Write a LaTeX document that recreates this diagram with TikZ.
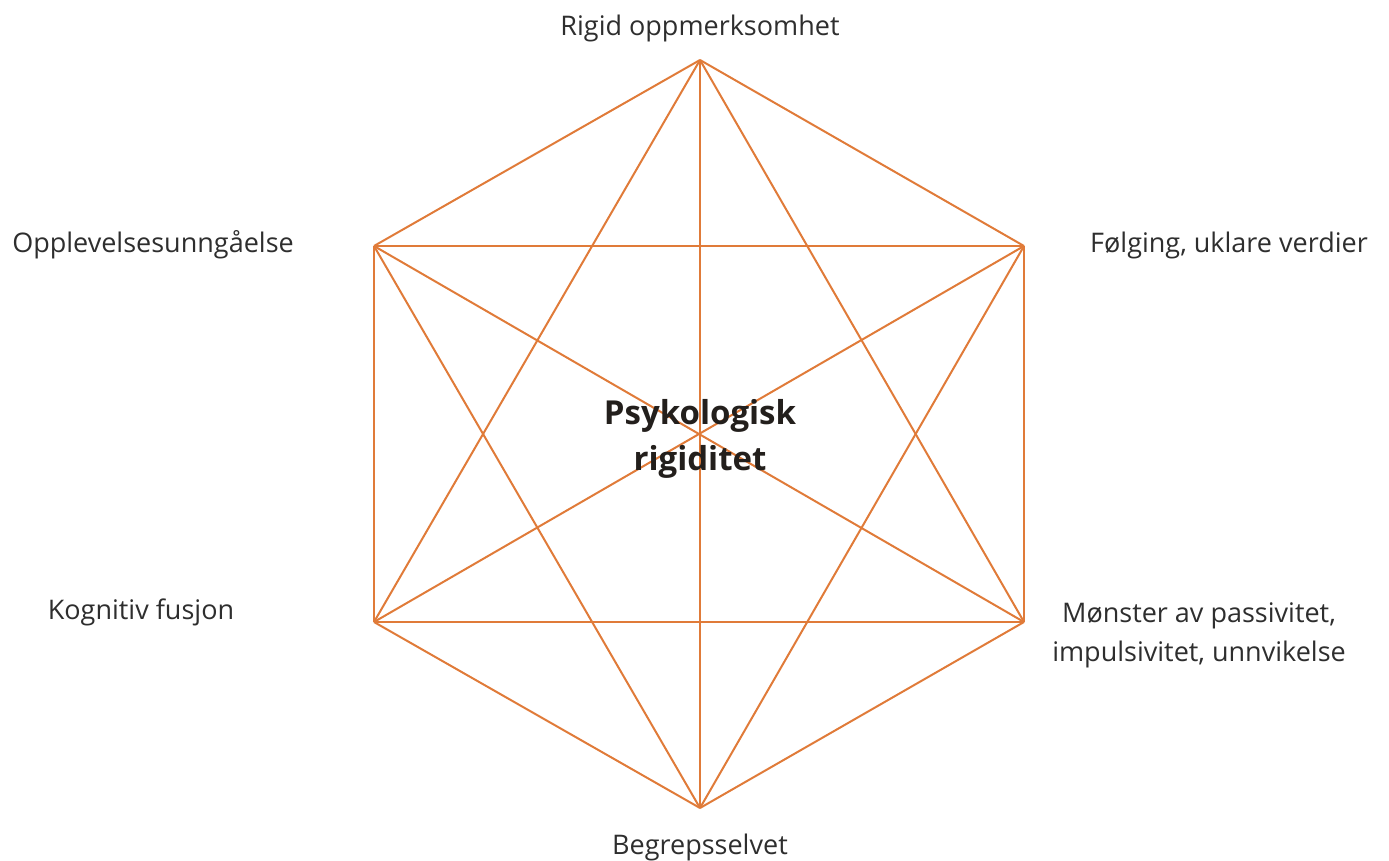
\documentclass[tikz,border=0pt]{standalone}
\usepackage{fontspec}
\setmainfont{Open Sans}
\definecolor{hexline}{HTML}{E07B39}
\definecolor{labeltext}{HTML}{2E2E2E}
\definecolor{centertext}{HTML}{231F1C}
\begin{document}
\begin{tikzpicture}[x=1pt,y=-1pt,
  edge/.style={draw=hexline,line width=2pt},
  lbl/.style={text=labeltext,font=\fontsize{27}{39}\selectfont,inner sep=0pt,align=center},
  ctr/.style={text=centertext,font=\fontsize{33}{46}\selectfont\bfseries,inner sep=0pt,align=center}]
\useasboundingbox (0,0) rectangle (1389,861);
\coordinate (t) at (700,60);
\coordinate (ur) at (1024,246);
\coordinate (lr) at (1024,622);
\coordinate (b) at (700,808);
\coordinate (ll) at (374,622);
\coordinate (ul) at (374,246);
\foreach \a/\c in {t/ur,t/lr,t/b,t/ll,t/ul,ur/lr,ur/b,ur/ll,ur/ul,lr/b,lr/ll,lr/ul,b/ll,b/ul,ll/ul}
  \draw[edge] (\a) -- (\c);
\node[ctr] (center) at (700,439) {Psykologisk\\rigiditet};
\node[lbl] (lt) at (700,28) {Rigid oppmerksomhet};
\node[lbl] (lul) at (153,245) {Opplevelsesunngåelse};
\node[lbl] (lur) at (1229,245) {Følging, uklare verdier};
\node[lbl] (lll) at (141,612) {Kognitiv fusjon};
\node[lbl] (llr) at (1199,635) {Mønster av passivitet,\\impulsivitet, unnvikelse};
\node[lbl] (lb) at (700,847) {Begrepsselvet};
\end{tikzpicture}
\end{document}
